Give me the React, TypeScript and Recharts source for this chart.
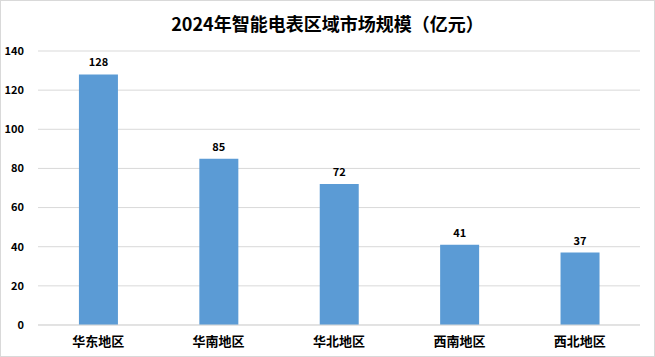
import { BarChart, Bar, XAxis, YAxis, CartesianGrid, LabelList } from "recharts";

const regions = ["华东地区", "华南地区", "华北地区", "西南地区", "西北地区"];
const marketSize = [128, 85, 72, 41, 37];
const yTicks = [0, 20, 40, 60, 80, 100, 120, 140];

const data = regions.map((name, i) => ({ name, value: marketSize[i] }));

const FONT = '"Noto Sans CJK SC", "Microsoft YaHei", sans-serif';

export default function App() {
  return (
    <div
      style={{
        position: "absolute",
        left: 0,
        top: 0,
        width: 655,
        height: 357,
        boxSizing: "border-box",
        border: "1px solid #d9d9d9",
        background: "#fff",
        fontFamily: FONT,
      }}
    >
      <div
        style={{
          position: "absolute",
          top: 9,
          width: "100%",
          textAlign: "center",
          fontSize: 18,
          fontWeight: "bold",
          color: "#000",
          lineHeight: "26px",
        }}
      >
        2024年智能电表区域市场规模（亿元）
      </div>
      <BarChart
        width={653}
        height={355}
        data={data}
        margin={{ top: 50, right: 14, left: 0, bottom: 0 }}
        barCategoryGap="34%"
      >
        <CartesianGrid vertical={false} stroke="#d9d9d9" />
        <XAxis
          dataKey="name"
          tickLine={false}
          axisLine={{ stroke: "#d9d9d9" }}
          height={31}
          tick={{ fontSize: 13, fontWeight: "bold", fill: "#000", fontFamily: FONT }}
          tickMargin={6}
        />
        <YAxis
          domain={[0, 140]}
          ticks={yTicks}
          width={37}
          tickLine={false}
          axisLine={false}
          tick={{ fontSize: 11, fontWeight: "bold", fill: "#000", fontFamily: FONT }}
          tickMargin={8}
        />
        <Bar dataKey="value" fill="#5b9bd5" isAnimationActive={false}>
          <LabelList
            dataKey="value"
            position="top"
            offset={8}
            style={{ fontSize: 11, fontWeight: "bold", fill: "#000", fontFamily: FONT }}
          />
        </Bar>
      </BarChart>
    </div>
  );
}
